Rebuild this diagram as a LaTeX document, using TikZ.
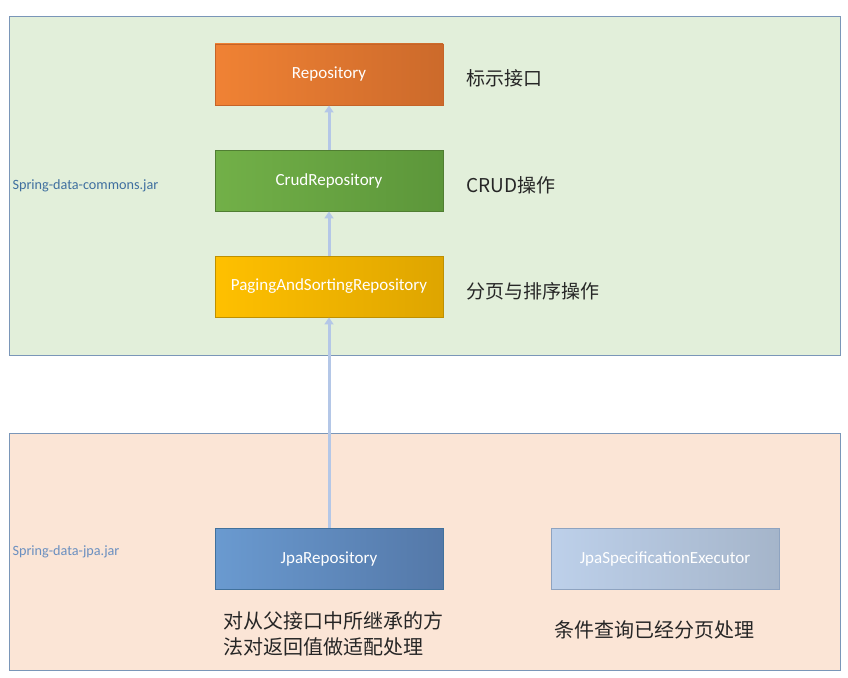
\documentclass[tikz,border=0pt]{standalone}
\usepackage{fontspec}
\setmainfont{Carlito}
\newfontfamily\cjk{Noto Sans CJK SC}
\usetikzlibrary{arrows.meta,positioning}
\usepackage{xcolor}

\definecolor{jarline}{HTML}{7A96B8}
\definecolor{commonsbg}{HTML}{E2EFDA}
\definecolor{jpabg}{HTML}{FBE5D6}
\definecolor{commonstext}{HTML}{3F6F9F}
\definecolor{jpatext}{HTML}{6A8FC0}
\definecolor{inhblue}{HTML}{B4C7E7}
\definecolor{notetext}{HTML}{262626}
\definecolor{repoA}{HTML}{F08234}
\definecolor{repoB}{HTML}{CC6A2B}
\definecolor{repoD}{HTML}{C56428}
\definecolor{crudA}{HTML}{72B048}
\definecolor{crudB}{HTML}{5C963A}
\definecolor{crudD}{HTML}{507E32}
\definecolor{pagingA}{HTML}{FFC000}
\definecolor{pagingB}{HTML}{DEA500}
\definecolor{pagingD}{HTML}{BF9000}
\definecolor{jparepoA}{HTML}{6A9AD0}
\definecolor{jparepoB}{HTML}{5478A8}
\definecolor{jparepoD}{HTML}{41719C}
\definecolor{jpaspecA}{HTML}{BDD0EA}
\definecolor{jpaspecB}{HTML}{A5B5CA}
\definecolor{jpaspecD}{HTML}{8EA3C0}

\begin{document}
\begin{tikzpicture}[x=1pt, y=-1pt, >=Stealth,
    jar/.style={draw=jarline, line width=1pt, fill=#1, anchor=north west, inner sep=0pt},
    iface/.style={draw=#1D, line width=0.9pt, left color=#1A, right color=#1B,
                 minimum width=228pt, minimum height=61pt, text=white,
                 font=\fontsize{17}{20}\selectfont},
    jarlbl/.style={text=#1, anchor=west, font=\fontsize{14.2}{17}\selectfont},
    note/.style={text=notetext, anchor=west, font=\cjk\fontsize{19}{26}\selectfont},
    inh/.style={-{Triangle[width=9pt,length=7pt]}, line width=3pt, inhblue}]

  \fill[white] (0,0) rectangle (848,677);
  \useasboundingbox (0,0) rectangle (848,677);

  %% jar areas
  \node[jar=commonsbg, minimum width=831pt, minimum height=339pt] (commons) at (9,16) {};
  \node[jar=jpabg, minimum width=831pt, minimum height=237pt] (jpa) at (9,433) {};
  \node[jarlbl=commonstext] (commonslbl) at (9,186) {Spring-data-commons.jar};
  \node[jarlbl=jpatext] (jpalbl) at (9,552) {Spring-data-jpa.jar};

  %% interfaces (commons)
  \node[iface=repo]   (repo)   at (329,74.5)  {Repository};
  \node[iface=crud]   (crud)   at (329,180.5) {CrudRepository};
  \node[iface=paging] (paging) at (329,286.5) {PagingAndSortingRepository};

  %% interfaces (jpa)
  \node[iface=jparepo] (jparepo) at (329,559) {JpaRepository};
  \node[iface=jpaspec] (jpaspec) at (665,559) {JpaSpecificationExecutor};

  %% inheritance
  \draw[inh] (crud) -- (repo);
  \draw[inh] (paging) -- (crud);
  \draw[inh] (jparepo) -- (paging);

  %% notes
  \node[note] (reponote) at (463,78) {标示接口};
  \node[note] (crudnote) at (463,185) {CRUD操作};
  \node[note] (pagingnote) at (463,291) {分页与排序操作};
  \node[note, anchor=north west, align=left, font=\cjk\fontsize{20}{26}\selectfont]
    (jparenote) at (220,608) {对从父接口中所继承的方\\法对返回值做适配处理};
  \node[note, font=\cjk\fontsize{20}{26}\selectfont] (jpaspecnote) at (551,630) {条件查询已经分页处理};
\end{tikzpicture}
\end{document}
